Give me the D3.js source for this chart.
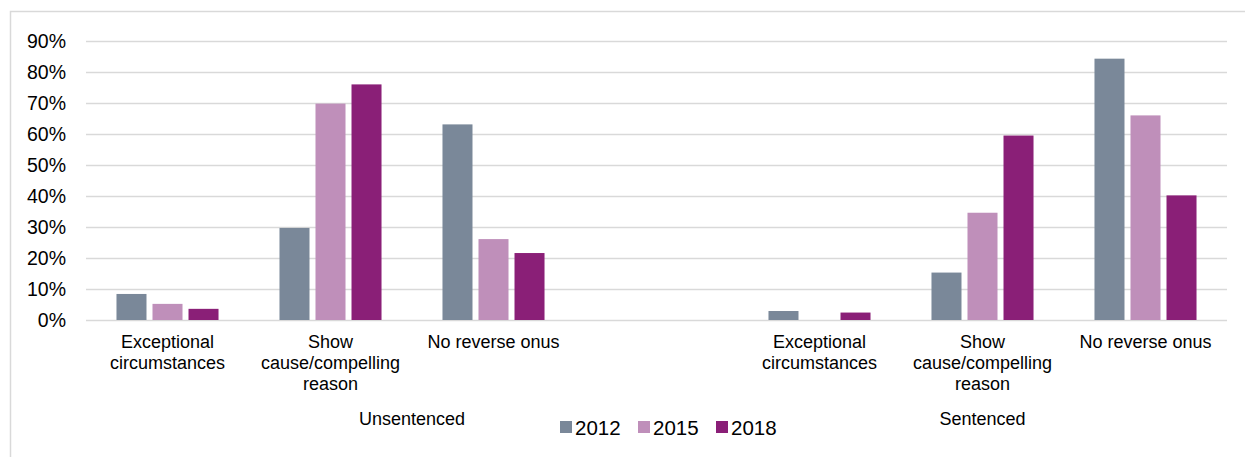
<!DOCTYPE html>
<html>
<head>
<meta charset="utf-8">
<script src="https://cdn.jsdelivr.net/npm/d3@7"></script>
<style>
  html, body { margin: 0; padding: 0; background: #fff; }
  svg { display: block; font-family: "Liberation Sans", Arial, sans-serif; }
</style>
</head>
<body>
<svg id="chart" width="1245" height="457"></svg>
<script>
// Bail conditions by reverse-onus type, unsentenced vs sentenced
const groups = ["Unsentenced", "Sentenced"];
const categoryLines = [
  ["Exceptional", "circumstances"],
  ["Show", "cause/compelling", "reason"],
  ["No reverse onus"]
];
const years = ["2012", "2015", "2018"];
// Shares (%) in order: Unsentenced x3 categories, then Sentenced x3 categories
const values2012 = [8.4, 29.7, 63.1, 2.9, 15.3, 84.3];
const values2015 = [5.2, 69.8, 26.1, 0.0, 34.6, 66.0];
const values2018 = [3.6, 76.0, 21.6, 2.4, 59.5, 40.2];
const yTicks = [0, 10, 20, 30, 40, 50, 60, 70, 80, 90];

const colors = { "2012": "#7A8899", "2015": "#BF8FBA", "2018": "#8A1F77" };
const seriesValues = { "2012": values2012, "2015": values2015, "2018": values2018 };

const svg = d3.select("#chart");

// chart frame
svg.append("path")
  .attr("d", "M10.5,457 V11.5 H1245")
  .attr("fill", "none")
  .attr("stroke", "#D9D9D9")
  .attr("stroke-width", 1.5);

const plot = { left: 86, right: 1227, top: 41, bottom: 320 };

// seven slots: three per group with an empty slot between the groups
const slots = ["U0", "U1", "U2", "gap", "S0", "S1", "S2"];
const x0 = d3.scaleBand().domain(slots).range([plot.left, plot.right]).padding(0);
const x1 = d3.scaleBand().domain(years)
  .range([x0.bandwidth() * 0.187, x0.bandwidth() * 0.813])
  .paddingInner(1 / 6).paddingOuter(0);
const y = d3.scaleLinear().domain([0, 90]).range([plot.bottom, plot.top]);

// gridlines + y labels
const yAxis = d3.axisLeft(y)
  .tickValues(yTicks)
  .tickSize(-(plot.right - plot.left))
  .tickPadding(20)
  .tickFormat(d => d + "%");
const gy = svg.append("g")
  .attr("transform", `translate(${plot.left},0)`)
  .call(yAxis);
gy.select(".domain").remove();
gy.selectAll(".tick line").attr("stroke", "#D9D9D9").attr("stroke-width", 1.5);
gy.selectAll(".tick text")
  .attr("fill", "#000")
  .style("font-size", "19.5px")
  .style("font-family", "'Liberation Sans', Arial, sans-serif");

// bar records
const records = [];
groups.forEach((g, gi) => {
  categoryLines.forEach((c, ci) => {
    const slot = (gi === 0 ? "U" : "S") + ci;
    years.forEach(yr => {
      records.push({ slot, year: yr, value: seriesValues[yr][gi * 3 + ci] });
    });
  });
});

svg.append("g").selectAll("rect")
  .data(records.filter(d => d.value > 0))
  .join("rect")
  .attr("x", d => x0(d.slot) + x1(d.year))
  .attr("y", d => y(d.value))
  .attr("width", x1.bandwidth())
  .attr("height", d => y(0) - y(d.value))
  .attr("fill", d => colors[d.year]);

// category labels
const catG = svg.append("g").style("font-size", "18px").attr("fill", "#000");
groups.forEach((g, gi) => {
  categoryLines.forEach((lines, ci) => {
    const slot = (gi === 0 ? "U" : "S") + ci;
    const cx = x0(slot) + x0.bandwidth() / 2;
    const t = catG.append("text").attr("text-anchor", "middle");
    lines.forEach((ln, li) => {
      t.append("tspan").attr("x", cx).attr("y", 348 + li * 21).text(ln);
    });
  });
});

// group labels
const groupSpans = [["U0", "gap"], ["S0", "S2"]];
groups.forEach((g, gi) => {
  const [a, b] = groupSpans[gi];
  const cx = (x0(a) + x0(b) + x0.bandwidth()) / 2;
  svg.append("text")
    .attr("x", cx).attr("y", 425)
    .attr("text-anchor", "middle")
    .style("font-size", "18px")
    .text(g);
});

// legend
const legendX = [560, 638, 716];
const lg = svg.append("g");
years.forEach((yr, i) => {
  lg.append("rect")
    .attr("x", legendX[i]).attr("y", 421)
    .attr("width", 12).attr("height", 12)
    .attr("fill", colors[yr]);
  lg.append("text")
    .attr("x", legendX[i] + 15).attr("y", 434.5)
    .style("font-size", "20.5px")
    .text(yr);
});
</script>
</body>
</html>
